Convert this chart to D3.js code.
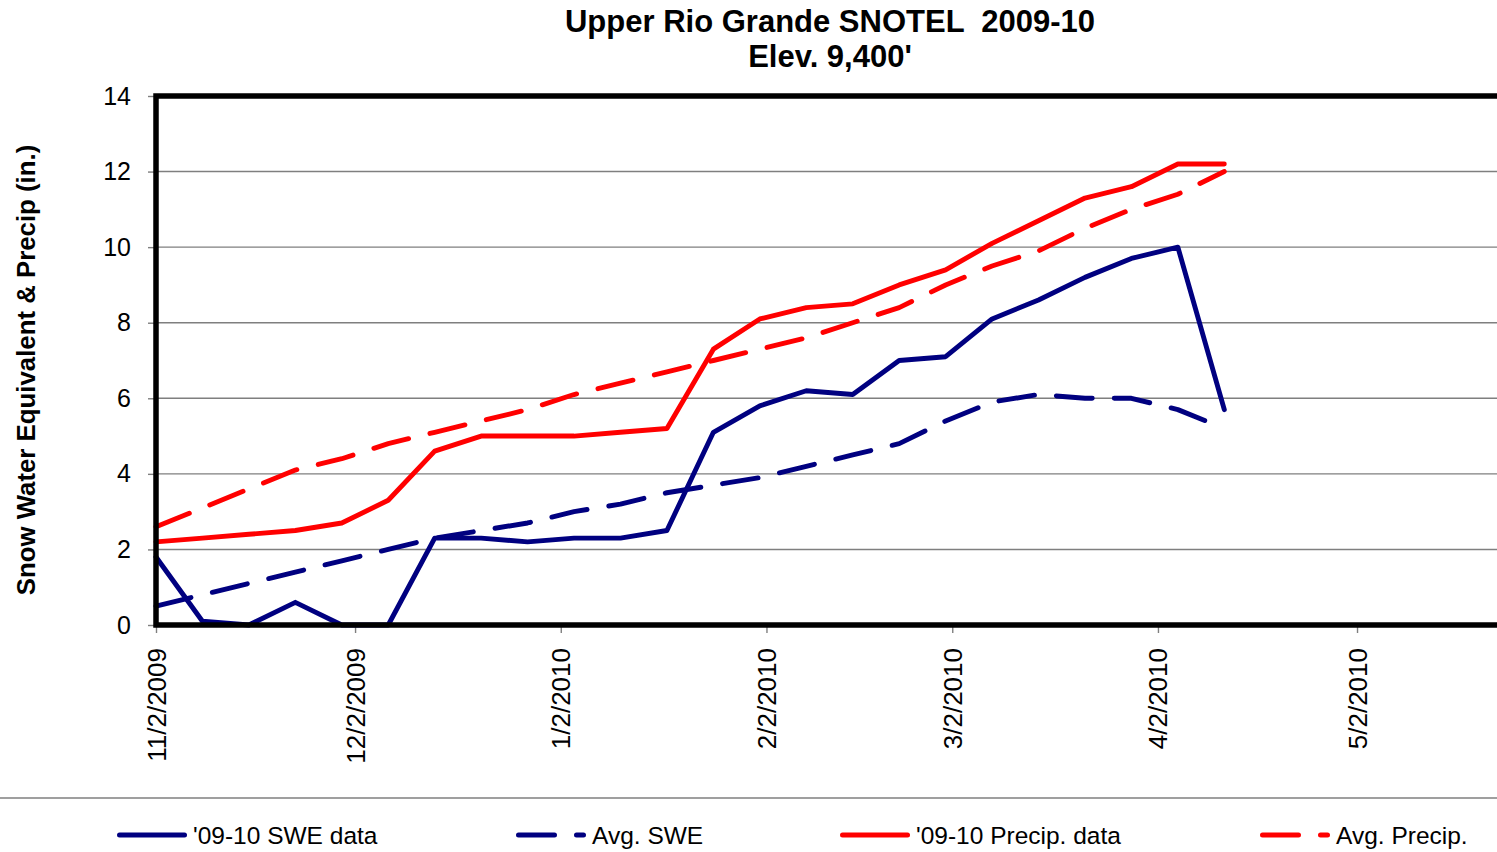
<!DOCTYPE html>
<html>
<head>
<meta charset="utf-8">
<script src="https://cdn.jsdelivr.net/npm/d3@7"></script>
<style>
  html, body { margin: 0; padding: 0; background: #fff; }
  svg { display: block; font-family: "Liberation Sans", Arial, sans-serif; }
  svg text { white-space: pre; }
</style>
</head>
<body>
<svg id="chart" width="1497" height="852"></svg>
<script>
// Weekly observation dates, Upper Rio Grande SNOTEL, 2009-10 season
const obsDates = ["2009-11-02","2009-11-09","2009-11-16","2009-11-23","2009-11-30","2009-12-07",
  "2009-12-14","2009-12-21","2009-12-28","2010-01-04","2010-01-11","2010-01-18","2010-01-25",
  "2010-02-01","2010-02-08","2010-02-15","2010-02-22","2010-03-01","2010-03-08","2010-03-15",
  "2010-03-22","2010-03-29","2010-04-05","2010-04-12"];

// Values in inches
const sweData    = [1.8, 0.1, 0.0, 0.6, 0.0, 0.0, 2.3, 2.3, 2.2, 2.3, 2.3, 2.5, 5.1, 5.8, 6.2, 6.1, 7.0, 7.1, 8.1, 8.6, 9.2, 9.7, 10.0, 5.7];
const avgSwe     = [0.5, 0.8, 1.1, 1.4, 1.7, 2.0, 2.3, 2.5, 2.7, 3.0, 3.2, 3.5, 3.7, 3.9, 4.2, 4.5, 4.8, 5.4, 5.9, 6.1, 6.0, 6.0, 5.7, 5.2];
const precipData = [2.2, 2.3, 2.4, 2.5, 2.7, 3.3, 4.6, 5.0, 5.0, 5.0, 5.1, 5.2, 7.3, 8.1, 8.4, 8.5, 9.0, 9.4, 10.1, 10.7, 11.3, 11.6, 12.2, 12.2];
const avgPrecip  = [2.6, 3.1, 3.6, 4.1, 4.4, 4.8, 5.1, 5.4, 5.7, 6.1, 6.4, 6.7, 7.0, 7.3, 7.6, 8.0, 8.4, 9.0, 9.5, 9.9, 10.5, 11.0, 11.4, 12.0];

// Axis ticks
const xTickDates = ["2009-11-02","2009-12-02","2010-01-02","2010-02-02","2010-03-02","2010-04-02","2010-05-02"];
const xDomain = ["2009-11-02","2010-05-24"];
const yTicks = [0, 2, 4, 6, 8, 10, 12, 14];

const seriesNames = ["'09-10 SWE data", "Avg. SWE", "'09-10 Precip. data", "Avg. Precip."];
const titleLines = ["Upper Rio Grande SNOTEL  2009-10", "Elev. 9,400'"];
const yTitle = "Snow Water Equivalent & Precip (in.)";

const parse = d3.utcParse("%Y-%m-%d");
const fmt = d3.utcFormat("%-m/%-d/%Y");
const dates = obsDates.map(parse);

const NAVY = "#000080", RED = "#ff0000";
const DASH = "36 22";
const LW = 4.9;

const series = [
  { name: seriesNames[0], values: sweData,    color: NAVY, dash: null },
  { name: seriesNames[1], values: avgSwe,     color: NAVY, dash: DASH },
  { name: seriesNames[2], values: precipData, color: RED,  dash: null },
  { name: seriesNames[3], values: avgPrecip,  color: RED,  dash: DASH }
];

const svg = d3.select("#chart");
const plotLeft = 156, plotTop = 96, plotBottom = 625, plotRight = 1503;

const x = d3.scaleUtc().domain(xDomain.map(parse)).range([plotLeft, plotRight]);
const y = d3.scaleLinear().domain([0, 14]).range([plotBottom, plotTop]);

// Horizontal gridlines
svg.append("g").selectAll("line").data(yTicks.filter(v => v > 0)).join("line")
  .attr("x1", plotLeft).attr("x2", plotRight)
  .attr("y1", d => y(d)).attr("y2", d => y(d))
  .attr("stroke", "#7f7f7f").attr("stroke-width", 1.4);

// Y axis
const yAxis = svg.append("g").attr("transform", `translate(${plotLeft},0)`)
  .call(d3.axisLeft(y).tickValues(yTicks).tickSize(8).tickPadding(17).tickFormat(d3.format("d")));
yAxis.select(".domain").remove();
yAxis.selectAll(".tick line").attr("stroke", "#7f7f7f").attr("stroke-width", 1.4);
yAxis.selectAll(".tick text").attr("font-size", 25).attr("fill", "#000")
  .attr("font-family", "Liberation Sans, Arial, sans-serif");

// X axis
const xAxis = svg.append("g").attr("transform", `translate(0,${plotBottom})`)
  .call(d3.axisBottom(x).tickValues(xTickDates.map(parse)).tickSize(8).tickFormat(fmt));
xAxis.select(".domain").remove();
xAxis.selectAll(".tick line").attr("stroke", "#7f7f7f").attr("stroke-width", 1.4);
xAxis.selectAll(".tick text")
  .attr("font-size", 26).attr("fill", "#000")
  .attr("font-family", "Liberation Sans, Arial, sans-serif")
  .attr("text-anchor", "end")
  .attr("dy", null).attr("y", null)
  .attr("transform", "translate(9,23) rotate(-90)");

// Series lines
const line = d3.line().x((d, i) => x(dates[i])).y(d => y(d));
svg.append("g").selectAll("path").data(series).join("path")
  .attr("d", d => line(d.values))
  .attr("fill", "none")
  .attr("stroke", d => d.color)
  .attr("stroke-width", LW)
  .attr("stroke-linejoin", "round")
  .attr("stroke-linecap", "round")
  .attr("stroke-dasharray", d => d.dash);

// Plot frame (left, top, bottom)
svg.append("path")
  .attr("d", `M${plotRight},${plotTop}H${plotLeft}V${plotBottom}H${plotRight}`)
  .attr("stroke", "#000").attr("stroke-width", 5.5).attr("fill", "none")
  .attr("stroke-linejoin", "miter");

// Title
svg.append("g").selectAll("text").data(titleLines).join("text")
  .attr("x", 830).attr("y", (d, i) => 32 + i * 35)
  .attr("text-anchor", "middle").attr("font-size", 31).attr("font-weight", "bold")
  .text(d => d);

// Y axis title
svg.append("text")
  .attr("transform", "translate(35,370) rotate(-90)")
  .attr("text-anchor", "middle").attr("font-size", 25.8).attr("font-weight", "bold")
  .text(yTitle);

// Legend
svg.append("line").attr("x1", 0).attr("x2", 1497).attr("y1", 798).attr("y2", 798)
  .attr("stroke", "#7f7f7f").attr("stroke-width", 1.4);

const legendPos = [117, 516, 840, 1260];
const legend = svg.append("g").selectAll("g").data(series).join("g")
  .attr("transform", (d, i) => `translate(${legendPos[i]},835)`);
legend.append("line")
  .attr("x1", 2.5).attr("x2", 67.5).attr("y1", 0).attr("y2", 0)
  .attr("stroke", d => d.color).attr("stroke-width", 5)
  .attr("stroke-linecap", "round")
  .attr("stroke-dasharray", d => d.dash);
legend.append("text")
  .attr("x", 76).attr("y", 9)
  .attr("font-size", 24.5)
  .text(d => d.name);
</script>
</body>
</html>
